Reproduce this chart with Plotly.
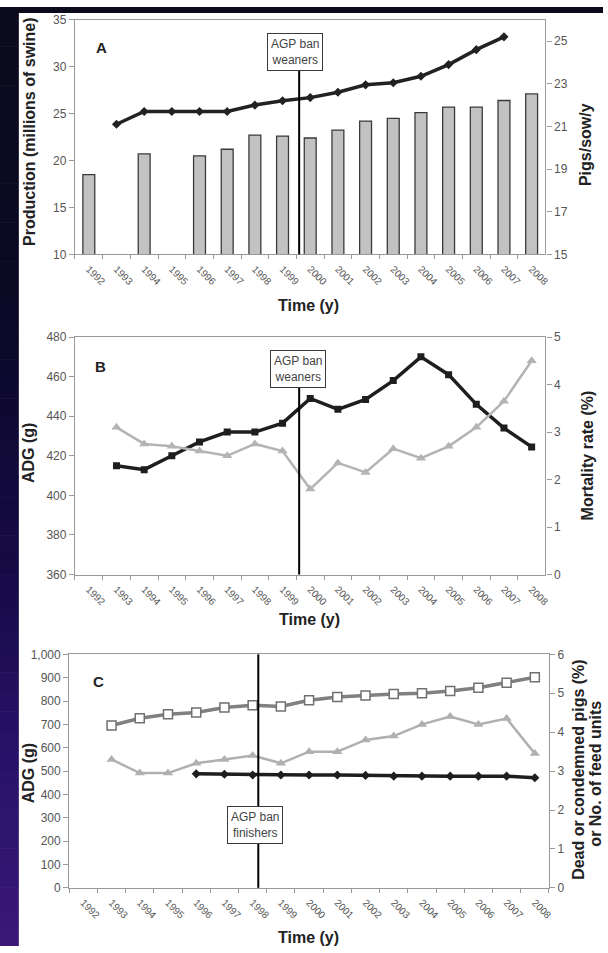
import plotly.graph_objects as go

W, H = 608, 953

years = [str(y) for y in range(1992, 2009)]

# panel A - production and pigs per sow
prod_years = ["1992", "1994", "1996", "1997", "1998", "1999", "2000", "2001",
              "2002", "2003", "2004", "2005", "2006", "2007", "2008"]
production = [18.5, 20.7, 20.5, 21.2, 22.7, 22.6, 22.4, 23.25, 24.2, 24.5,
              25.1, 25.7, 25.7, 26.4, 27.1]
pig_years = [str(y) for y in range(1993, 2008)]
pigs_per_sow = [21.1, 21.7, 21.7, 21.7, 21.7, 22.0, 22.2, 22.35, 22.6, 22.95,
                23.05, 23.35, 23.9, 24.6, 25.2]

# panel B - weaners
wean_years = [str(y) for y in range(1993, 2009)]
adg_weaners = [415, 413, 420, 427, 432, 432, 436.5, 449, 443.5, 448.5, 458,
               470, 461, 446, 434, 424.5]
mortality_weaners = [3.1, 2.75, 2.7, 2.6, 2.5, 2.75, 2.6, 1.8, 2.35, 2.15,
                     2.65, 2.45, 2.7, 3.1, 3.65, 4.5]

# panel C - finishers
fin_years = [str(y) for y in range(1993, 2009)]
adg_finishers = [695, 726, 743, 751, 772, 782, 777, 803, 817, 824, 830, 833,
                 843, 857, 878, 902]
dead_condemned = [3.3, 2.95, 2.95, 3.2, 3.3, 3.4, 3.2, 3.5, 3.5, 3.8, 3.9,
                  4.2, 4.4, 4.2, 4.35, 3.45]
feed_years = [str(y) for y in range(1996, 2009)]
feed_units = [2.93, 2.92, 2.9, 2.9, 2.9, 2.9, 2.89, 2.87, 2.87, 2.87, 2.87,
              2.87, 2.83]

FONT = "Liberation Sans, Arial, sans-serif"
AX = "#9a9a9a"
TXT = "#555555"


def px(x):
    return x / W


def py(y):
    return 1 - y / H


fig = go.Figure()

# A
fig.add_trace(go.Bar(x=prod_years, y=production, width=0.43,
                     marker=dict(color="#c2c2c2", line=dict(color="#3a3a3a", width=1.3)),
                     xaxis="x", yaxis="y"))
fig.add_trace(go.Scatter(x=pig_years, y=pigs_per_sow, mode="lines+markers",
                         line=dict(color="#222222", width=3.5),
                         marker=dict(symbol="diamond", size=7, color="#222222"),
                         xaxis="x", yaxis="y2"))
# B
fig.add_trace(go.Scatter(x=wean_years, y=mortality_weaners, mode="lines+markers",
                         line=dict(color="#b4b4b4", width=2.5),
                         marker=dict(symbol="triangle-up", size=9, color="#b4b4b4"),
                         xaxis="x2", yaxis="y4"))
fig.add_trace(go.Scatter(x=wean_years, y=adg_weaners, mode="lines+markers",
                         line=dict(color="#1e1e1e", width=3.5),
                         marker=dict(symbol="square", size=7, color="#1e1e1e"),
                         xaxis="x2", yaxis="y3"))
# C
fig.add_trace(go.Scatter(x=fin_years, y=adg_finishers, mode="lines+markers",
                         line=dict(color="#808080", width=3.5),
                         marker=dict(symbol="square", size=9, color="white",
                                     line=dict(color="#707070", width=1.5)),
                         xaxis="x3", yaxis="y5"))
fig.add_trace(go.Scatter(x=fin_years, y=dead_condemned, mode="lines+markers",
                         line=dict(color="#b0b0b0", width=2.5),
                         marker=dict(symbol="triangle-up", size=9, color="#b0b0b0"),
                         xaxis="x3", yaxis="y6"))
fig.add_trace(go.Scatter(x=feed_years, y=feed_units, mode="lines+markers",
                         line=dict(color="#1e1e1e", width=3.5),
                         marker=dict(symbol="diamond", size=7, color="#1e1e1e"),
                         xaxis="x3", yaxis="y6"))

xcommon = dict(type="category", categoryarray=years, categoryorder="array",
               range=[-0.5, 16.5], tickson="boundaries", ticks="outside",
               ticklen=4, tickcolor=AX, showline=True, linecolor=AX, linewidth=1.3,
               mirror=True, showgrid=False, zeroline=False, tickangle=45,
               ticklabelstandoff=4,
               tickfont=dict(family=FONT, size=10, color=TXT), fixedrange=True)
ycommon = dict(ticks="outside", ticklen=5, tickcolor=AX, showline=True,
               linecolor=AX, linewidth=1.3, showgrid=False, zeroline=False,
               tickfont=dict(family=FONT, size=12, color=TXT))

dA_x = [px(75.6), px(550)]
dA_y = [py(251), py(13)]
dB_y = [py(576), py(335)]
dC_x = [px(69.8), px(553.5)]
dC_y = [py(894), py(657)]

fig.update_layout(
    width=W, height=H, margin=dict(l=0, r=0, t=0, b=0),
    paper_bgcolor="white", plot_bgcolor="white", showlegend=False,
    bargap=0.5,
    xaxis=dict(xcommon, domain=dA_x, anchor="y"),
    yaxis=dict(ycommon, domain=dA_y, range=[10, 35], dtick=5, anchor="x"),
    yaxis2=dict(ycommon, overlaying="y", side="right", range=[15, 26],
                tickvals=[15, 17, 19, 21, 23, 25], anchor="x"),
    xaxis2=dict(xcommon, domain=dA_x, anchor="y3"),
    yaxis3=dict(ycommon, domain=dB_y, range=[360, 480], dtick=20, anchor="x2"),
    yaxis4=dict(ycommon, overlaying="y3", side="right", range=[0, 5], dtick=1,
                anchor="x2"),
    xaxis3=dict(xcommon, domain=dC_x, anchor="y5"),
    yaxis5=dict(ycommon, domain=dC_y, range=[0, 1000], dtick=100,
                tickformat=",", anchor="x3"),
    yaxis6=dict(ycommon, overlaying="y5", side="right", range=[0, 6], dtick=1,
                anchor="x3"),
)

shapes = []
# dark frame of the slide
shapes.append(dict(type="rect", xref="paper", yref="paper", x0=0, x1=1,
                   y0=py(6), y1=1, fillcolor="#0b0b1c", line=dict(width=0),
                   layer="above"))
stops = [(0.0, (11, 11, 28)), (0.3, (10, 9, 36)), (0.6, (22, 10, 70)),
         (0.8, (40, 18, 105)), (1.0, (58, 24, 120))]


def grad(t):
    for (t0, c0), (t1, c1) in zip(stops[:-1], stops[1:]):
        if t <= t1:
            f = (t - t0) / (t1 - t0)
            return "rgb(%d,%d,%d)" % tuple(round(a + (b - a) * f) for a, b in zip(c0, c1))
    return "rgb(%d,%d,%d)" % stops[-1][1]


n = 48
for i in range(n):
    y0 = H * i / n
    y1 = H * (i + 1) / n + 0.6
    shapes.append(dict(type="rect", xref="paper", yref="paper", x0=0, x1=px(19),
                       y0=py(min(y1, H)), y1=py(y0),
                       fillcolor=grad((i + 0.5) / n), line=dict(width=0),
                       layer="above"))

# AGP ban lines
shapes.append(dict(type="line", xref="x", yref="paper", x0=7.6, x1=7.6,
                   y0=py(251), y1=py(60), line=dict(color="black", width=2)))
shapes.append(dict(type="line", xref="x2", yref="paper", x0=7.6, x1=7.6,
                   y0=py(576), y1=py(380), line=dict(color="black", width=2)))
shapes.append(dict(type="line", xref="x3", yref="paper", x0=6.2, x1=6.2,
                   y0=py(894), y1=py(657), line=dict(color="black", width=2)))
fig.update_layout(shapes=shapes)

ann = []


def box(text, x, y):
    ann.append(dict(text=text, xref="paper", yref="paper", x=px(x), y=py(y),
                    showarrow=False, xanchor="center", yanchor="middle",
                    font=dict(family=FONT, size=12, color="#444444"),
                    bgcolor="white", bordercolor="#3a3a3a", borderwidth=1,
                    borderpad=3, align="center"))


def label(text, x, y, size=16, angle=0, color="#222222"):
    ann.append(dict(text="<b>%s</b>" % text, xref="paper", yref="paper",
                    x=px(x), y=py(y), showarrow=False, xanchor="center",
                    yanchor="middle", textangle=angle,
                    font=dict(family=FONT, size=size, color=color)))


box("AGP ban<br>weaners", 297, 46)
box("AGP ban<br>weaners", 300, 367)
box("AGP ban<br>finishers", 257, 830)

label("A", 102, 41, 15)
label("B", 101, 365, 15)
label("C", 99, 685, 15)

label("Production (millions of swine)", 29, 127, angle=-90)
label("Pigs/sow/y", 591, 140, angle=-90)
label("Time (y)", 311, 303)
label("ADG (g)", 29, 453, angle=-90)
label("Mortality rate (%)", 592, 455, angle=-90)
label("Time (y)", 312, 622)
label("ADG (g)", 29, 778, angle=-90)
label("Dead or condemned pigs (%)", 583, 774, angle=-90)
label("or No. of feed units", 601, 778, angle=-90)
label("Time (y)", 311, 944)

fig.update_layout(annotations=ann)

fig.write_html("out.html", config={"displayModeBar": False},
               post_script="document.body.style.margin='0';"
                           "document.body.style.overflow='hidden';")
